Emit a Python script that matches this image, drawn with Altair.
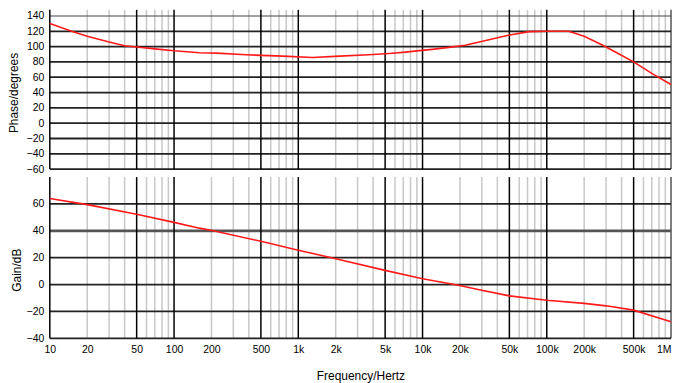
import altair as alt
import pandas as pd

# ---- data ----
phase_freq = [10, 15, 20, 30, 40, 50, 70, 100, 160, 220, 380, 750, 1300, 2150,
              3700, 5400, 7300, 9400, 12000, 16300, 22000, 27500, 49000, 72000,
              100000, 150000, 200000, 285000, 375000, 500000, 700000, 1000000]
phase_deg = [130, 120, 113.5, 106, 101, 99.5, 97, 94.5, 92, 91.5, 89.3, 87.5, 85.7, 87.5,
             89.3, 91, 92.8, 94.7, 96.4, 99, 101.7, 105.3, 114.7, 119.5,
             120, 120, 113.5, 101.5, 91, 80, 65, 50.5]

gain_freq = [10, 20, 50, 100, 160, 207, 500, 1000, 2000, 5000, 10000, 19500,
             28000, 50000, 100000, 200000, 300000, 500000, 1000000]
gain_db = [64, 59.5, 52.3, 46.3, 42, 40, 32.2, 25.6, 19.3, 10.6, 4.4, -0.5,
           -3.7, -8.4, -11.6, -14, -15.8, -19, -27.6]

x_tick_values = [10, 20, 50, 100, 200, 500, 1000, 2000, 5000, 10000, 20000,
                 50000, 100000, 200000, 500000, 1000000]
x_tick_labels = ["10", "20", "50", "100", "200", "500", "1k", "2k", "5k", "10k",
                 "20k", "50k", "100k", "200k", "500k", "1M"]

phase_ticks = [-60, -40, -20, 0, 20, 40, 60, 80, 100, 120, 140]
gain_ticks = [-40, -20, 0, 20, 40, 60]
phase_thin_lines = [140]   # drawn thinner in the reference
gain_thick_lines = [40]    # drawn thicker / greyer in the reference

major_lines = [10, 50, 100, 500, 1000, 5000, 10000, 50000, 100000, 500000]
minor_lines = [20, 30, 40, 60, 70, 80, 90,
               200, 300, 400, 600, 700, 800, 900,
               2000, 3000, 4000, 6000, 7000, 8000, 9000,
               20000, 30000, 40000, 60000, 70000, 80000, 90000,
               200000, 300000, 400000, 600000, 700000, 800000, 900000]
edge_lines = [1000000]

FONT = "Liberation Sans"
label_expr = " : ".join(f"datum.value == {v} ? '{l}'" for v, l in zip(x_tick_values, x_tick_labels)) + " : ''"

x_scale = alt.Scale(type="log", domain=[10, 1000000], nice=False)


def panel(freqs, vals, ticks, special, special_color, special_width,
          domain, title, height, title_y, title_x, show_x):
    y_scale = alt.Scale(domain=domain, nice=False, zero=False)
    if show_x:
        x_axis = alt.Axis(values=x_tick_values, labelExpr=label_expr, title="Frequency/Hertz",
                          domain=False, ticks=False, grid=False, labelPadding=6,
                          labelFlush=False, titlePadding=16,
                          labelAlign={"condition": {"test": f"datum.value >= {x_tick_values[-1]}",
                                                    "value": "right"},
                                      "value": "center"})
    else:
        x_axis = None
    y_axis = alt.Axis(values=ticks, title=title, domain=False, ticks=False, grid=False,
                      labelPadding=6, titleAngle=-90, titleBaseline="top",
                      titleAlign="center", titleX=title_x, titleY=title_y)

    xe = alt.X("f:Q", scale=x_scale, axis=x_axis)
    ye = alt.Y("v:Q", scale=y_scale, axis=y_axis)

    normal = [t for t in ticks if t not in special]

    minor = alt.Chart(pd.DataFrame({"f": minor_lines})).mark_rule(
        color="#c8c8c8", strokeWidth=1.5).encode(x=xe)
    edge = alt.Chart(pd.DataFrame({"f": edge_lines})).mark_rule(
        color="#555555", strokeWidth=1.5).encode(x=xe)
    hl = alt.Chart(pd.DataFrame({"v": normal})).mark_rule(
        color="#222222", strokeWidth=1.8).encode(y=ye)
    hl_special = alt.Chart(pd.DataFrame({"v": special})).mark_rule(
        color=special_color, strokeWidth=special_width).encode(y=ye)
    major = alt.Chart(pd.DataFrame({"f": major_lines})).mark_rule(
        color="#000000", strokeWidth=1.5).encode(x=xe)
    curve = alt.Chart(pd.DataFrame({"f": freqs, "v": vals})).mark_line(
        color="#ff1a1a", strokeWidth=1.6).encode(x=xe, y=ye)
    return alt.layer(minor, edge, hl, hl_special, major, curve).properties(width=624, height=height)


phase = panel(phase_freq, phase_deg, phase_ticks, phase_thin_lines, "#444444", 1.1,
              [-60, 148], "Phase/degrees", 160, 83, -41, False)
gain = panel(gain_freq, gain_db, gain_ticks, gain_thick_lines, "#555555", 2.6,
             [-40, 80], "Gain/dB", 162, 93, -38, True)

chart = alt.vconcat(phase, gain, spacing=8, bounds="flush").properties(padding=0).configure_view(
    stroke=None
).configure_axis(
    labelFont=FONT, labelFontSize=10.5, labelColor="#000000",
    titleFont=FONT, titleFontSize=12, titleFontWeight="normal", titleColor="#000000"
)

chart.save("out.html", embed_options={"renderer": "svg", "actions": False})
